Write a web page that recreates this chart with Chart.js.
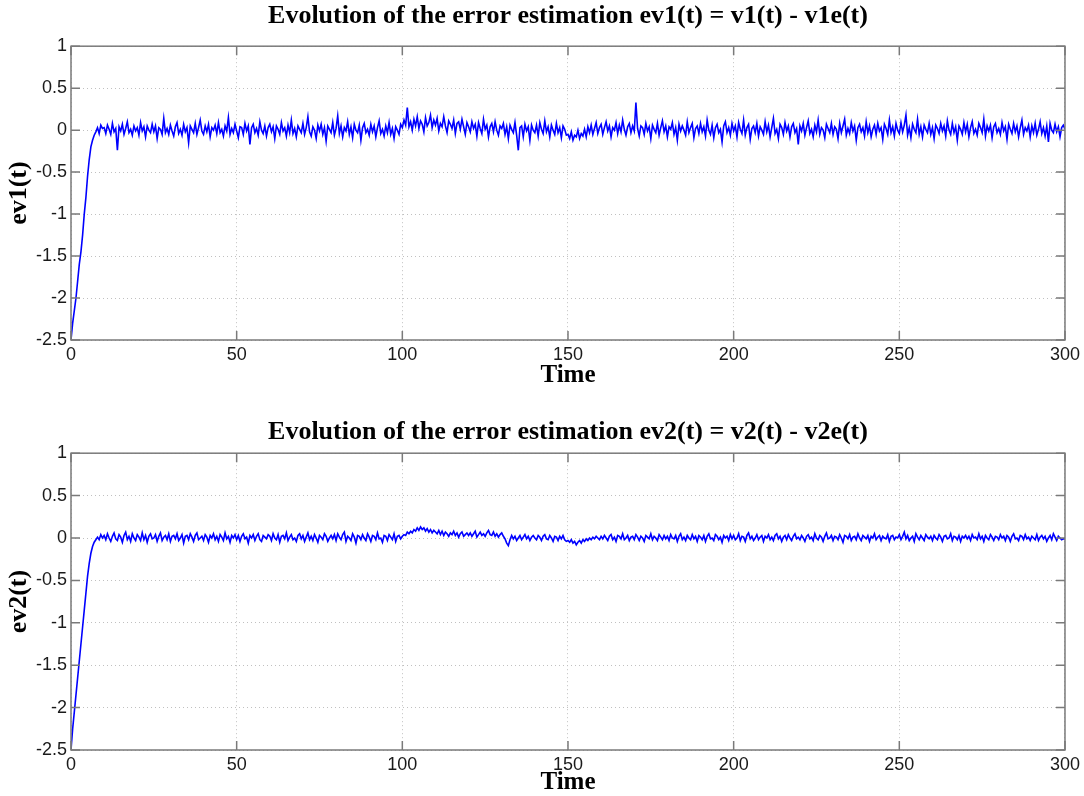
<!DOCTYPE html>
<html>
<head>
<meta charset="utf-8">
<script src="https://cdn.jsdelivr.net/npm/chart.js@4.4.1/dist/chart.umd.min.js"></script>
<style>
    body { margin: 0; background: #fff; overflow: hidden; }
    .plot { position: absolute; left: 0; width: 1084px; height: 398px; }
</style>
</head>
<body>
<div class="plot" style="top:0"><canvas id="chart1" width="1084" height="398"></canvas></div>
<div class="plot" style="top:400px"><canvas id="chart2" width="1084" height="398"></canvas></div>
<script>
// =============================================================================
// 데이터 (샘플 간격 0.5)
// =============================================================================
const DT = 0.5;
const X_TICKS = [0, 50, 100, 150, 200, 250, 300];
const Y_TICKS = [1, 0.5, 0, -0.5, -1, -1.5, -2, -2.5];

const EV1 = [
    -2.5,-2.3,-2.15,-2.0,-1.8,-1.6,-1.45,-1.25,-1.0,-0.8,-0.55,-0.35,-0.2,-0.12,-0.06,-0.02,.03,-.04,.06,.02,
    .03,-.04,.06,.01,-.05,.08,-.02,.02,-.24,.04,-.01,.07,-.05,.02,.1,-.03,.01,-.06,.05,-.01,
    .03,-.06,.09,-.01,.04,-.08,.05,.0,-.03,.07,-.02,.05,-.1,.03,.01,-.05,.14,-.03,.02,-.05,
    .06,-.01,-.07,.04,.09,-.04,.01,-.06,.07,-.02,.03,-.15,.05,.01,-.03,.08,-.05,.03,.12,-.01,
    -.05,.05,-.02,.07,-.08,.03,.0,.06,-.04,.09,-.03,.01,-.07,.05,-.01,.15,-.05,.02,-.03,.07,
    -.01,-.09,.04,.03,-.05,.08,-.01,.05,-.17,.03,.07,-.03,.02,-.06,.1,.0,-.04,.05,-.07,.03,
    .07,-.02,.04,-.1,.05,.01,-.05,.09,-.01,.03,-.07,.06,-.03,.12,-.04,.02,-.08,.05,.01,-.03,
    .08,-.05,.03,.16,-.02,-.07,.04,.0,-.1,.06,-.01,.07,-.05,.03,-.13,.05,.01,-.03,.09,-.06,
    .02,.17,-.04,.05,-.08,.03,-.01,.1,-.05,.04,-.09,.07,.0,-.03,.06,-.12,.03,.08,-.03,.01,
    -.06,.07,-.02,.05,-.08,.03,.11,-.04,.01,-.07,.05,-.03,.09,-.05,.02,-.1,.04,.0,-.05,.07,
    .03,.12,.06,.27,.04,.1,.0,.13,.05,.16,.02,.11,.07,-.02,.15,.05,.09,.18,.03,.12,
    .06,.14,-.01,.08,.04,.16,.05,-.03,.11,.07,.02,.12,-.04,.08,.1,.01,.13,.04,-.05,.09,
    .04,-.02,.1,.02,.07,-.07,.09,.02,-.04,.13,.01,.06,-.08,.04,.08,-.02,.1,.0,-.06,.05,
    .02,.08,-.05,.04,-.1,.06,.01,-.03,.09,-.06,-.24,.03,.05,-.08,.07,-.01,.04,-.12,.06,.0,
    -.03,.06,-.07,.09,.01,-.04,.11,-.02,.04,-.08,.06,.0,-.05,.08,-.03,.03,-.09,.05,.01,-.06,
    -.05,-.1,-.02,-.12,-.06,-.08,.0,-.1,-.04,-.07,.01,-.08,.04,-.03,.06,-.05,.02,.09,-.04,.03,
    .07,-.05,.03,.1,-.01,.05,-.08,.03,.0,.09,-.04,.06,-.02,.12,.01,-.06,.04,.08,-.03,.05,
    -.01,.33,.02,-.07,.05,.03,-.05,.08,-.01,.04,-.1,.06,.01,-.03,.08,-.06,.03,.11,-.02,.05,
    -.08,.04,.01,.09,-.05,.03,-.12,.07,-.01,.05,.0,-.06,.1,-.03,.03,.08,-.09,.02,.05,-.04,
    .08,-.02,.04,-.07,.12,.0,-.05,.06,-.09,.03,.07,-.03,.01,-.14,.05,.1,-.03,.03,-.06,.08,
    -.01,.05,-.08,.09,.01,-.04,.12,-.06,.03,.07,-.11,.02,.05,-.03,.08,-.07,.04,.0,-.05,.1,
    -.02,.06,-.08,.03,.14,-.04,.01,-.1,.07,.03,-.05,.09,-.01,.05,-.08,.04,.08,-.03,.02,-.17,
    .05,-.01,.08,-.06,.03,.11,-.04,.01,-.08,.06,-.02,.12,-.05,.03,.0,-.09,.07,.02,-.03,.08,
    -.05,.04,.01,-.1,.08,-.03,.05,.13,-.06,.02,-.04,.09,-.01,.05,-.12,.03,.07,-.02,.03,-.07,
    .1,-.03,.05,-.08,.01,.06,-.05,.08,-.01,.03,-.11,.07,.02,-.05,.12,-.03,.04,-.07,.08,.0,
    -.04,.09,-.02,.06,.18,-.06,.03,-.09,.07,.01,-.03,.13,-.05,.04,-.08,.06,.01,-.03,.08,-.05,
    .03,-.1,.06,.02,-.04,.08,-.01,.05,-.07,.11,.0,-.05,.08,-.03,.04,-.12,.05,.01,-.05,.09,
    -.02,.07,-.08,.03,.1,-.04,.01,-.06,.08,.03,-.03,.13,-.07,.05,-.01,.06,-.09,.04,.08,-.03,
    .02,-.05,.09,-.01,.04,-.11,.07,.01,-.04,.08,-.02,.05,-.08,.03,.12,-.05,.03,-.01,.06,-.08,
    .05,-.03,.08,-.06,.01,.1,-.04,.03,-.07,.05,-.14,.08,.0,-.03,.07,-.02,.04,-.08,.03,.06,
    .01
];

const EV2 = [
    -2.5,-2.25,-2.05,-1.85,-1.65,-1.45,-1.25,-1.05,-0.85,-0.65,-0.45,-0.3,-0.18,-0.1,-0.05,-0.02,.01,-.02,.04,.0,
    .03,-.02,.05,.0,-.04,.02,.06,-.01,-.03,.04,.01,-.05,.03,.07,-.02,.02,-.04,.05,.0,-.03,
    .04,.01,-.03,.06,-.02,.03,-.05,.02,.05,-.01,.0,.04,-.04,.02,.06,-.03,.01,.03,-.02,.05,
    -.04,.02,.03,-.01,.05,-.03,.0,.04,-.06,.02,.03,-.02,.05,.01,-.04,.03,.06,-.02,.0,.02,
    -.03,.04,.01,-.05,.03,.0,.05,-.02,.02,-.04,.04,.01,-.03,.06,-.01,.02,-.05,.03,.0,.04,
    -.02,.03,-.04,.02,.05,-.01,.01,-.06,.03,.0,.04,-.03,.02,.05,-.02,-.04,.03,.01,-.01,.04,
    .02,-.03,.05,.0,-.02,.04,-.05,.02,.03,-.01,.06,-.03,.01,.04,-.02,.0,-.04,.03,.05,-.01,
    .03,-.04,.01,.06,-.02,.02,-.03,.04,.0,-.05,.03,.01,-.02,.05,.02,-.04,.0,.03,-.01,.04,
    -.03,.05,.01,-.02,.04,.07,-.04,.02,.0,-.03,.05,.01,-.06,.03,.02,-.02,.04,.0,-.03,.05,
    .01,-.04,.03,.02,-.02,.06,-.01,.0,-.05,.03,.02,-.03,.04,.01,-.02,.05,-.04,.02,.03,-.01,
    .02,.04,.03,.07,.05,.08,.06,.1,.08,.12,.09,.13,.1,.12,.08,.11,.07,.1,.06,.09,
    .07,.05,.09,.04,.08,.03,.07,.05,.02,.06,.04,.08,.03,.06,.01,.05,.07,.02,.04,.06,
    .03,.06,.02,.05,.08,.01,.04,.07,.03,.05,.02,.06,.09,.04,.03,.07,.02,.05,.01,.04,
    .06,.02,-.01,-.06,-.09,-.02,.03,-.01,.02,-.03,.0,.03,-.02,.01,.04,-.01,.02,-.03,.01,.03,
    .0,-.02,.03,.01,-.03,.02,.04,-.01,-.02,.03,.0,-.04,.02,.01,-.03,.02,-.01,.03,-.02,-.04,
    -.03,-.05,-.02,-.06,-.04,-.08,-.05,-.03,-.06,-.02,-.04,-.01,-.03,.0,-.02,.01,-.01,.02,.0,-.02,
    .02,-.01,.03,.0,-.03,.02,.04,-.02,.01,-.04,.03,.02,-.01,.05,-.02,.0,.03,-.03,.01,.02,
    -.02,.04,.01,-.03,.02,.0,-.04,.03,.01,-.01,.05,-.02,.02,.0,-.03,.04,.01,-.02,.03,-.01,
    .02,-.03,.04,.0,-.01,.03,-.04,.02,.05,-.02,.01,-.03,.03,.0,-.02,.04,-.01,.02,-.04,.03,
    .01,-.02,.03,-.04,.02,.05,-.01,.0,-.03,.04,.02,-.02,.01,-.05,.03,.0,.02,-.03,.04,-.01,
    .03,-.02,.0,.05,-.03,.02,.01,-.04,.03,.06,-.01,.02,-.03,.0,.04,-.02,.01,.03,-.04,.02,
    .0,.04,-.02,.01,-.03,.03,.05,-.01,.02,-.04,.01,.03,-.02,.04,.0,-.03,.02,.05,-.01,.01,
    -.02,.03,.0,-.04,.02,.04,-.01,.01,-.03,.05,.0,-.02,.03,.01,-.04,.02,.06,-.01,.0,.03,
    -.03,.02,.01,-.02,.04,.0,-.05,.03,.02,-.01,.04,-.03,.01,.02,-.02,.05,.0,-.03,.03,.01,
    -.01,.03,-.04,.02,.0,.05,-.02,.01,.03,-.03,.02,.0,-.01,.04,-.04,.02,.03,-.02,.01,.0,
    .04,-.02,.02,.07,-.01,.03,-.03,.0,.02,-.04,.05,.01,-.02,.03,.0,-.03,.04,.01,-.01,.02,
    -.03,.03,.0,-.02,.04,.01,-.04,.02,.03,-.01,.0,.05,-.03,.02,.01,-.02,.03,-.04,.02,.0,
    .03,-.01,.02,-.03,.04,.0,.01,-.02,.05,-.01,.02,-.04,.03,.0,-.02,.04,.01,-.03,.02,.01,
    -.02,.04,.0,.02,-.03,.03,.01,-.04,.02,.05,-.01,.0,-.03,.03,.02,-.02,.04,-.01,.01,-.03,
    .02,.0,-.02,.04,-.03,.01,.03,-.01,.02,-.04,.0,.03,-.02,.05,.01,-.03,.02,.0,-.02,-.01,
    -.01
];

// 샘플 시각 (0, 0.5, 1, ... 300)
const TIME = EV1.map((_, i) => i * DT);


// =============================================================================
// MATLAB 스타일 박스 + 안쪽 눈금
// =============================================================================
const boxPlugin = {
    id: "matlabBox",
    afterDatasetsDraw(chart) {
        const { ctx, chartArea: a, scales } = chart;
        ctx.save();
        ctx.strokeStyle = "#7a7a7a";
        ctx.lineWidth = 1.5;
        ctx.strokeRect(a.left, a.top, a.right - a.left, a.bottom - a.top);

        ctx.beginPath();
        X_TICKS.forEach((t) => {
            const px = scales.x.getPixelForValue(t);
            ctx.moveTo(px, a.bottom); ctx.lineTo(px, a.bottom - 9);
            ctx.moveTo(px, a.top); ctx.lineTo(px, a.top + 9);
        });
        Y_TICKS.forEach((t) => {
            const py = scales.y.getPixelForValue(t);
            ctx.moveTo(a.left, py); ctx.lineTo(a.left + 9, py);
            ctx.moveTo(a.right, py); ctx.lineTo(a.right - 9, py);
        });
        ctx.stroke();
        ctx.restore();
    },
};


// =============================================================================
// 차트 생성
// =============================================================================
function makeChart(canvasId, title, yLabel, values, box) {
    const tickFont = { family: "'Liberation Sans', Arial, sans-serif", size: 18 };
    const serif = "'Liberation Serif', 'Times New Roman', serif";

    return new Chart(document.getElementById(canvasId), {
        type: "line",
        data: {
            datasets: [{
                data: TIME.map((t, i) => ({ x: t, y: values[i] })),
                borderColor: "#0000ff",
                borderWidth: 1.6,
                pointRadius: 0,
                tension: 0,
                fill: false,
            }],
        },
        options: {
            responsive: false,
            animation: false,
            events: [],
            layout: { padding: { right: 18 } },
            plugins: {
                legend: { display: false },
                tooltip: { enabled: false },
                title: {
                    display: true,
                    text: title,
                    fullSize: false,
                    color: "#000",
                    font: { family: serif, size: 26, weight: "bold" },
                    padding: box.titlePad,
                },
            },
            scales: {
                x: {
                    type: "linear",
                    min: 0,
                    max: 300,
                    afterBuildTicks: (s) => { s.ticks = X_TICKS.map((v) => ({ value: v })); },
                    afterFit: (s) => { s.height = box.xHeight; },
                    grid: { color: "#c0c0c0", drawTicks: false, lineWidth: 1 },
                    border: { display: false, dash: [1, 3] },
                    ticks: { color: "#1a1a1a", font: tickFont, padding: 4, maxRotation: 0, callback: (v) => String(v) },
                    title: { display: true, text: "Time", color: "#000", font: { family: serif, size: 25, weight: "bold" }, padding: box.xTitlePad },
                },
                y: {
                    min: -2.5,
                    max: 1,
                    afterBuildTicks: (s) => { s.ticks = Y_TICKS.map((v) => ({ value: v })); },
                    afterFit: (s) => { s.width = 71; },
                    grid: { color: "#c0c0c0", drawTicks: false, lineWidth: 1 },
                    border: { display: false, dash: [1, 3] },
                    ticks: { color: "#1a1a1a", font: tickFont, padding: 4, callback: (v) => String(v) },
                    title: { display: true, text: yLabel, color: "#000", font: { family: serif, size: 26, weight: "bold" }, padding: { top: 4, bottom: 0 } },
                },
            },
        },
        plugins: [boxPlugin],
    });
}

makeChart("chart1", "Evolution of the error estimation ev1(t) = v1(t) - v1e(t)", "ev1(t)", EV1,
    { titlePad: { top: 1, bottom: 14 }, xHeight: 58, xTitlePad: { top: 0, bottom: 7 } });

makeChart("chart2", "Evolution of the error estimation ev2(t) = v2(t) - v2e(t)", "ev2(t)", EV2,
    { titlePad: { top: 17, bottom: 5 }, xHeight: 48, xTitlePad: { top: 0, bottom: 0 } });
</script>
</body>
</html>
